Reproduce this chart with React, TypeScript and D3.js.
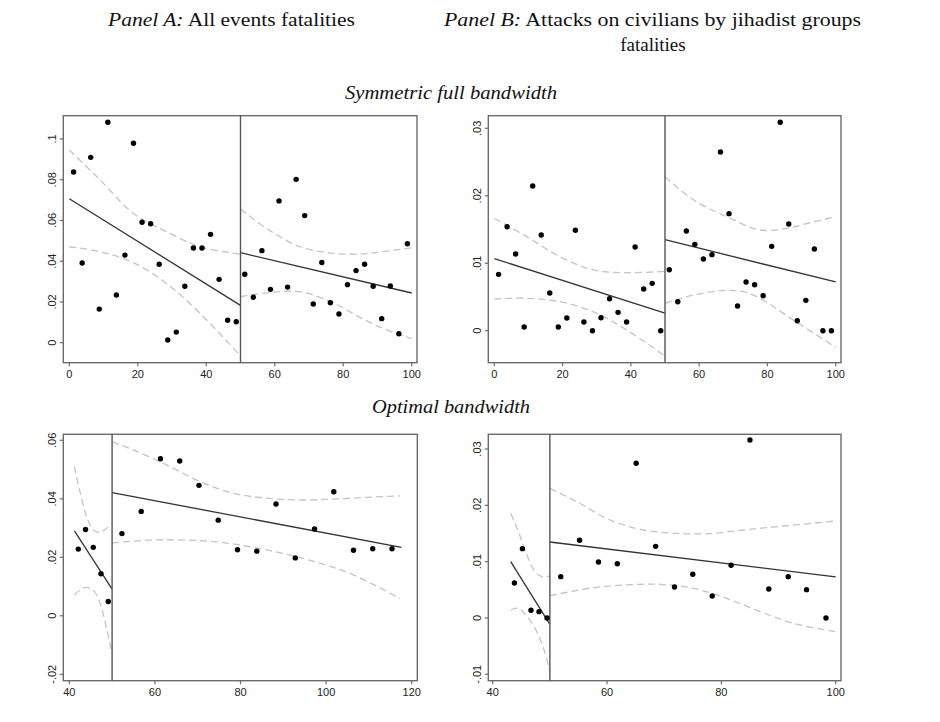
import * as d3 from "d3";

// bin centres, symmetric full bandwidth (both panels)
const symLeftX = [1.25, 3.75, 6.25, 8.75, 11.25, 13.75, 16.25, 18.75, 21.25, 23.75, 26.25, 28.75, 31.25, 33.75, 36.25, 38.75, 41.25, 43.75, 46.25, 48.75];
const symRightX = [51.25, 53.75, 56.25, 58.75, 61.25, 63.75, 66.25, 68.75, 71.25, 73.75, 76.25, 78.75, 81.25, 83.75, 86.25, 88.75, 91.25, 93.75, 96.25, 98.75];

// Panel A, symmetric
const aSymLeftY = [0.0838, 0.0391, 0.091, 0.0165, 0.1082, 0.0234, 0.043, 0.0979, 0.0591, 0.0584, 0.0385, 0.0013, 0.0052, 0.0277, 0.0465, 0.0465, 0.0532, 0.0311, 0.011, 0.0103];
const aSymRightY = [0.0336, 0.0223, 0.0452, 0.0262, 0.0696, 0.0273, 0.0802, 0.0624, 0.019, 0.0394, 0.0196, 0.0141, 0.0285, 0.0354, 0.0385, 0.0277, 0.0118, 0.0278, 0.0044, 0.0486];
const aSymFit = [[0, 0.0707], [50, 0.0183], [50, 0.0442], [100, 0.0244]];
const aSymLeftUpper = [[0, 0.0946], [9, 0.0799], [18.7, 0.0635], [28.4, 0.0545], [38.2, 0.0471], [50, 0.0435]];
const aSymLeftLower = [[0, 0.0471], [9, 0.0447], [18.7, 0.0393], [28.4, 0.0291], [38.2, 0.0144], [50, -0.0065]];
const aSymRightUpper = [[50, 0.0656], [57.6, 0.0561], [67.4, 0.0471], [77.1, 0.0439], [84.9, 0.0435], [91.7, 0.0447], [100, 0.0466]];
const aSymRightLower = [[50, 0.0226], [57.6, 0.0245], [67.4, 0.025], [77.1, 0.0196], [84.9, 0.0124], [91.7, 0.007], [100, 0.002]];

// Panel B, symmetric
const bSymLeftY = [0.00835, 0.0154, 0.01137, 0.00054, 0.02145, 0.01418, 0.00558, 0.00054, 0.00188, 0.01488, 0.00128, 0, 0.00193, 0.00474, 0.00272, 0.00128, 0.0124, 0.00618, 0.00702, 0];
const bSymRightY = [0.00904, 0.0043, 0.01478, 0.0128, 0.01063, 0.01127, 0.02649, 0.01735, 0.00366, 0.00722, 0.00682, 0.00519, 0.0125, 0.0309, 0.01582, 0.00148, 0.0045, 0.01211, 0, 0];
const bSymFit = [[0, 0.01068], [50, 0.00262], [50, 0.01349], [100, 0.00722]];
const bSymLeftUpper = [[0, 0.01666], [9.5, 0.01394], [19.2, 0.01097], [29, 0.009], [38.8, 0.0086], [50, 0.0088]];
const bSymLeftLower = [[0, 0.0047], [9.5, 0.0048], [19.2, 0.0043], [29, 0.0028], [38.8, 0.0001], [50, -0.00376]];
const bSymRightUpper = [[50, 0.02283], [58.4, 0.01937], [68.1, 0.0169], [77.8, 0.01493], [85.6, 0.01517], [92.5, 0.016], [100, 0.0169]];
const bSymRightLower = [[50, 0.00405], [58.4, 0.00529], [68.1, 0.00598], [73, 0.00578], [77.8, 0.00479], [87.6, 0.00158], [100, -0.00247]];

// Panel A, optimal bandwidth
const aOptLeftX = [42.1, 43.8, 45.6, 47.4, 49.1];
const aOptLeftY = [0.0228, 0.0295, 0.0234, 0.0144, 0.0049];
const aOptRightX = [52.3, 56.8, 61.3, 65.8, 70.3, 74.8, 79.3, 83.8, 88.3, 92.8, 97.3, 101.8, 106.4, 110.9, 115.4];
const aOptRightY = [0.0281, 0.0357, 0.0537, 0.0529, 0.0446, 0.0327, 0.0226, 0.0221, 0.0382, 0.0198, 0.0297, 0.0424, 0.0224, 0.0229, 0.0229];
const aOptFit = [[41.2, 0.029], [50, 0.00913], [50, 0.0421], [117.6, 0.0234]];
const aOptLeftUpper = [[41.2, 0.051], [42.5, 0.0424], [44.05, 0.0339], [45.6, 0.0293], [47.2, 0.0285], [48.7, 0.0299], [50, 0.0315]];
const aOptLeftLower = [[41.2, 0.0071], [42.5, 0.0088], [44.05, 0.0097], [45.6, 0.0088], [47.2, 0.0042], [48.7, -0.0043], [50, -0.0132]];
const aOptRightUpper = [[50, 0.0595], [55, 0.0567], [62.7, 0.0516], [70.5, 0.0459], [78.3, 0.0419], [86.1, 0.0402], [93.9, 0.0396], [101.7, 0.0399], [109.5, 0.0405], [117.3, 0.041]];
const aOptRightLower = [[50, 0.0249], [58.8, 0.0259], [66.6, 0.0259], [74.4, 0.0253], [82.2, 0.0236], [90, 0.0213], [97.8, 0.0183], [105.6, 0.0145], [117.3, 0.0059]];

// Panel B, optimal bandwidth
const bOptLeftX = [43.8, 45.2, 46.7, 48.1, 49.5];
const bOptLeftY = [0.00621, 0.01231, 0.00136, 0.00112, 0];
const bOptRightX = [51.9, 55.2, 58.5, 61.8, 65.1, 68.5, 71.8, 75.0, 78.4, 81.7, 85.0, 88.3, 91.7, 94.9, 98.3];
const bOptRightY = [0.00734, 0.01379, 0.00994, 0.00964, 0.02746, 0.01272, 0.0055, 0.00775, 0.0039, 0.00935, 0.0316, 0.00515, 0.00734, 0.00503, 0];
const bOptFit = [[43.15, 0.01], [50, -0.00112], [50, 0.01349], [100, 0.00728]];
const bOptLeftUpper = [[43.15, 0.01858], [44.5, 0.01533], [45.9, 0.0114], [47.4, 0.00822], [48.9, 0.00722], [50, 0.00751]];
const bOptLeftLower = [[43.15, 0.00142], [44.5, 0.00172], [45.9, 0.0004], [47.4, -0.00183], [48.9, -0.0054], [50, -0.0095]];
const bOptRightUpper = [[50, 0.023], [54.7, 0.02065], [60.5, 0.0174], [66.4, 0.01562], [72.2, 0.01503], [78, 0.01497], [83.8, 0.01562], [89.7, 0.01621], [100, 0.01722]];
const bOptRightLower = [[50, 0.00396], [57.6, 0.00538], [63.4, 0.00586], [69.3, 0.00598], [75.1, 0.00527], [80.9, 0.00349], [86.8, 0.00112], [92.6, -0.00095], [100, -0.00243]];

const symXTicks = [0, 20, 40, 60, 80, 100];
const aSymYTicks = [0, 0.02, 0.04, 0.06, 0.08, 0.1];
const bSymYTicks = [0, 0.01, 0.02, 0.03];
const aOptXTicks = [40, 60, 80, 100, 120];
const aOptYTicks = [-0.02, 0, 0.02, 0.04, 0.06];
const bOptXTicks = [40, 60, 80, 100];
const bOptYTicks = [-0.01, 0, 0.01, 0.02, 0.03];

const CUTOFF = 50;
const sans = "'Liberation Sans', Arial, sans-serif";
const serif = "'Liberation Serif', 'Times New Roman', serif";

// stata style: .02 rather than 0.02
const fmt = (v: number) => (v === 0 ? "0" : String(v).replace("0.", "."));

type P = number[];

function Panel(props: any) {
  const { l, r, t, b, xd, xr, yd, yr, xTicks, yTicks, lx, ly, rx, ry, fit, bands } = props;
  const x = d3.scaleLinear().domain(xd).range(xr);
  const y = d3.scaleLinear().domain(yd).range(yr);
  const band = d3.line<P>().x(d => x(d[0])).y(d => y(d[1])).curve(d3.curveCatmullRom.alpha(0.5));
  const pts = lx.map((v: number, i: number) => [v, ly[i]]).concat(rx.map((v: number, i: number) => [v, ry[i]]));

  return (
    <g>
      <rect x={l} y={t} width={r - l} height={b - t} fill="white" stroke="#6b6b6b" strokeWidth={1.4} />
      {bands.map((bd: P[], i: number) => (
        <path key={"b" + i} d={band(bd) || ""} fill="none" stroke="#c4c4c4" strokeWidth={1.3} strokeDasharray="7,4" />
      ))}
      {[0, 2].map(i => (
        <line key={"f" + i} x1={x(fit[i][0])} y1={y(fit[i][1])} x2={x(fit[i + 1][0])} y2={y(fit[i + 1][1])}
          stroke="#333" strokeWidth={1.3} />
      ))}
      <line x1={x(CUTOFF)} x2={x(CUTOFF)} y1={t} y2={b} stroke="#555" strokeWidth={1.4} />
      {pts.map((p: P, i: number) => (
        <circle key={"p" + i} cx={x(p[0])} cy={y(p[1])} r={2.7} fill="#000" />
      ))}
      {xTicks.map((v: number) => (
        <g key={"xt" + v}>
          <line x1={x(v)} x2={x(v)} y1={b} y2={b + 3.5} stroke="#6b6b6b" strokeWidth={1.2} />
          <text x={x(v)} y={b + 15.5} textAnchor="middle" fontFamily={sans} fontSize={11} fill="#222">{fmt(v)}</text>
        </g>
      ))}
      {yTicks.map((v: number) => (
        <g key={"yt" + v}>
          <line x1={l - 3.5} x2={l} y1={y(v)} y2={y(v)} stroke="#6b6b6b" strokeWidth={1.2} />
          <text transform={`translate(${l - 7},${y(v)}) rotate(-90)`} textAnchor="middle" fontFamily={sans} fontSize={11} fill="#222">{fmt(v)}</text>
        </g>
      ))}
    </g>
  );
}

export default function App() {
  return (
    <svg width={940} height={722} style={{ position: "absolute", left: 0, top: 0, background: "white" }}>
      <rect width={940} height={722} fill="white" />
      <text x={108} y={26} fontFamily={serif} fontSize={19} fill="#111" textLength={247} lengthAdjust="spacingAndGlyphs">
        <tspan fontStyle="italic">Panel A:</tspan> All events fatalities
      </text>
      <text x={444} y={26} fontFamily={serif} fontSize={19} fill="#111" textLength={417} lengthAdjust="spacingAndGlyphs">
        <tspan fontStyle="italic">Panel B:</tspan> Attacks on civilians by jihadist groups
      </text>
      <text x={653} y={51} textAnchor="middle" fontFamily={serif} fontSize={19} fill="#111">fatalities</text>
      <text x={451} y={99} textAnchor="middle" fontFamily={serif} fontStyle="italic" fontSize={19} fill="#111" textLength={212} lengthAdjust="spacingAndGlyphs">Symmetric full bandwidth</text>
      <text x={451} y={413} textAnchor="middle" fontFamily={serif} fontStyle="italic" fontSize={19} fill="#111" textLength={158} lengthAdjust="spacingAndGlyphs">Optimal bandwidth</text>

      <Panel l={63.3} r={417} t={115.7} b={362.7} xd={[0, 100]} xr={[69.3, 411.7]} yd={[0, 0.1]} yr={[342.7, 139]}
        xTicks={symXTicks} yTicks={aSymYTicks} lx={symLeftX} ly={aSymLeftY} rx={symRightX} ry={aSymRightY} fit={aSymFit}
        bands={[aSymLeftUpper, aSymLeftLower, aSymRightUpper, aSymRightLower]} />
      <Panel l={488.3} r={841} t={115.7} b={362.7} xd={[0, 100]} xr={[494.3, 835.7]} yd={[0, 0.03]} yr={[330.7, 128.3]}
        xTicks={symXTicks} yTicks={bSymYTicks} lx={symLeftX} ly={bSymLeftY} rx={symRightX} ry={bSymRightY} fit={bSymFit}
        bands={[bSymLeftUpper, bSymLeftLower, bSymRightUpper, bSymRightLower]} />
      <Panel l={63.3} r={417.3} t={434.3} b={680.7} xd={[40, 120]} xr={[69.3, 411.7]} yd={[-0.02, 0.06]} yr={[674.3, 440.3]}
        xTicks={aOptXTicks} yTicks={aOptYTicks} lx={aOptLeftX} ly={aOptLeftY} rx={aOptRightX} ry={aOptRightY} fit={aOptFit}
        bands={[aOptLeftUpper, aOptLeftLower, aOptRightUpper, aOptRightLower]} />
      <Panel l={488.3} r={841} t={434.3} b={680.7} xd={[40, 100]} xr={[492.7, 835.7]} yd={[-0.01, 0.03]} yr={[674.3, 449]}
        xTicks={bOptXTicks} yTicks={bOptYTicks} lx={bOptLeftX} ly={bOptLeftY} rx={bOptRightX} ry={bOptRightY} fit={bOptFit}
        bands={[bOptLeftUpper, bOptLeftLower, bOptRightUpper, bOptRightLower]} />
    </svg>
  );
}
